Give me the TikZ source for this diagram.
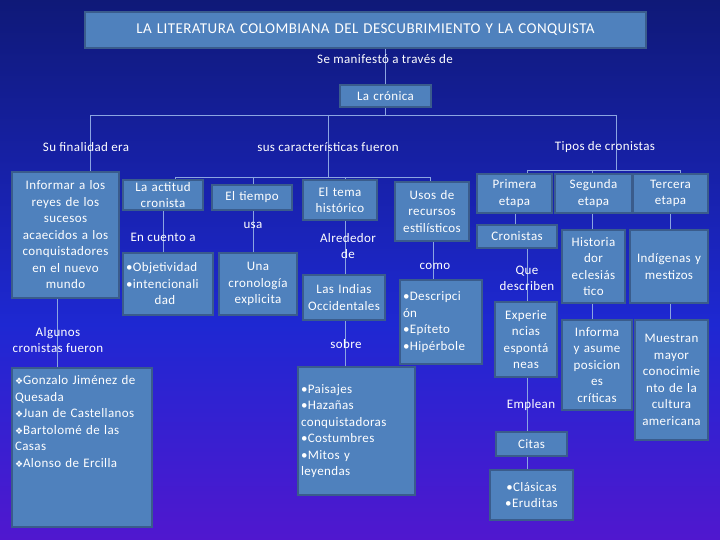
\documentclass[tikz,border=0pt]{standalone}
\usepackage{fontspec}
\setmainfont{Carlito}[LetterSpace=3]
\newfontfamily\djfont{DejaVu Sans}
\definecolor{boxf}{RGB}{79,129,189}
\definecolor{boxd}{RGB}{58,92,140}
\definecolor{ln}{RGB}{140,165,225}
\definecolor{bgnavy}{RGB}{2,6,30}
\definecolor{bgmid}{RGB}{15,25,120}
\definecolor{bgblue}{RGB}{30,40,210}
\definecolor{bgpurp}{RGB}{105,15,205}
\definecolor{bgbot}{RGB}{140,55,160}
\pgfdeclareverticalshading{bgsh}{100bp}{color(0bp)=(bgbot); color(15bp)=(bgpurp); color(45bp)=(bgblue); color(75bp)=(bgmid); color(100bp)=(bgnavy)}
\newcommand{\bx}[7][]{\node[bx,#1,minimum width={(#5-#3)*1pt},minimum height={(#6-#4)*1pt},text width={(#5-#3-6)*1pt}] (#2) at ({(#3+#5)/2},{(#4+#6)/2}) {#7};}
\tikzset{
 bx/.style={draw=boxd,line width=2.5pt,fill=boxf,text=white,inner sep=1pt,align=center,font=\fontsize{13}{16.5}\selectfont},
 lb/.style={text=white,font=\fontsize{13}{16}\selectfont,align=center,inner sep=1pt},
 cn/.style={draw=ln,line width=0.8pt}
}
\begin{document}
\begin{tikzpicture}[x=1pt,y=-1pt]
\shade[shading=bgsh] (0,0) rectangle (720,540);
\useasboundingbox (0,0) rectangle (720,540);
% lines
\coordinate (b1) at (90,115); \coordinate (b2) at (616,115); \coordinate (bc) at (385,115); \coordinate (bm) at (328,115);
\coordinate (c1) at (175,177); \coordinate (c2) at (430,177); \coordinate (cm) at (328,177);
\coordinate (t1) at (527,170); \coordinate (t2) at (680,170); \coordinate (tm) at (616,170);
\draw[cn] (385,48) -- (bc);
\draw[cn] (b1) -- (b2);
\draw[cn] (bm) -- (cm);
\draw[cn] (b2) -- (tm);
\draw[cn] (c1) -- (c2);
\draw[cn] (t1) -- (t2);
\draw[cn] (b1) -- (90,172);
\foreach \x in {175,253,345,430} \draw[cn] (\x,177) -- (\x,190);
\foreach \x in {527,592,680} \draw[cn] (\x,170) -- (\x,180);
\draw[cn] (163,210) -- (163,253);
\draw[cn] (253,210) -- (253,253);
\draw[cn] (345,220) -- (345,275);
\draw[cn] (345,320) -- (345,367);
\draw[cn] (433,241) -- (433,280);
\draw[cn] (515,213) -- (515,225);
\draw[cn] (527,248) -- (527,302);
\draw[cn] (527,377) -- (527,433);
\draw[cn] (527,456) -- (527,470);
\draw[cn] (592,213) -- (592,320);
\draw[cn] (670,213) -- (670,320);
\draw[cn] (57,298) -- (57,370);
% boxes
\bx[font=\fontsize{15}{17}\selectfont]{title}{85}{12}{646}{48}{LA LITERATURA COLOMBIANA DEL DESCUBRIMIENTO Y LA CONQUISTA}
\node[lb] (se) at (385,59) {Se manifestó a través de};
\bx{cron}{340}{85}{431}{107}{La crónica}
\node[lb] (l1) at (86,147) {Su finalidad era};
\node[lb] (l2) at (328,147) {sus características fueron};
\node[lb] (l3) at (605,147) {Tipos de cronistas};
\bx{inf}{12}{172}{119}{298}{Informar a los\\reyes de los\\sucesos\\acaecidos a los\\conquistadores\\en el nuevo\\mundo}
\node[lb] (alg) at (58,340) {Algunos\\cronistas fueron};
\bx[align=left]{gon}{12}{368}{152}{527}{\parbox[c][150pt][t]{136pt}{\vspace*{3pt}\raggedright{\djfont\small ❖}Gonzalo Jiménez de\\Quesada\\{\djfont\small ❖}Juan de Castellanos\\{\djfont\small ❖}Bartolomé de las\\Casas\\{\djfont\small ❖}Alonso de Ercilla}}
\bx{act}{123}{180}{203}{210}{La actitud\\cronista}
\node[lb] (enc) at (163,237) {En cuento a};
\bx[align=left]{obj}{123}{253}{213}{315}{•Objetividad\\•intencionali\\\hspace*{2.2em}dad}
\bx{tie}{212}{185}{292}{210}{El tiempo}
\node[lb] (usa) at (253,225) {usa};
\bx{cro}{219}{253}{297}{315}{Una\\cronología\\explicita}
\bx{tem}{303}{180}{377}{220}{El tema\\histórico}
\node[lb] (alr) at (348,246) {Alrededor\\de};
\bx{ind}{303}{275}{385}{320}{Las Indias\\Occidentales}
\node[lb] (sob) at (346,344) {sobre};
\bx[align=left]{pai}{298}{367}{415}{495}{•Paisajes\\•Hazañas\\conquistadoras\\•Costumbres\\•Mitos y\\leyendas}
\bx{uso}{395}{182}{469}{241}{Usos de\\recursos\\estilísticos}
\node[lb] (como) at (435,266) {como};
\bx[align=left]{des}{400}{280}{482}{364}{•Descripci\\ón\\•Epíteto\\•Hipérbole}
\bx{pri}{477}{174}{552}{213}{Primera\\etapa}
\bx{seg}{555}{174}{632}{213}{Segunda\\etapa}
\bx{ter}{633}{174}{708}{213}{Tercera\\etapa}
\bx{crs}{477}{225}{557}{248}{Cronistas}
\node[lb] (que) at (527,278) {Que\\describen};
\bx{exp}{495}{302}{557}{377}{Experie\\ncias\\espontá\\neas}
\node[lb] (emp) at (531,405) {Emplean};
\bx{cit}{496}{432}{567}{456}{Citas}
\bx{cla}{490}{470}{573}{520}{•Clásicas\\•Eruditas}
\bx{his}{562}{230}{625}{303}{Historia\\dor\\eclesiás\\tico}
\bx{infm}{562}{320}{632}{410}{Informa\\y asume\\posicion\\es\\críticas}
\bx{indg}{630}{230}{708}{303}{Indígenas y\\mestizos}
\bx{mue}{635}{320}{708}{440}{Muestran\\mayor\\conocimie\\nto de la\\cultura\\americana}
\end{tikzpicture}
\end{document}
